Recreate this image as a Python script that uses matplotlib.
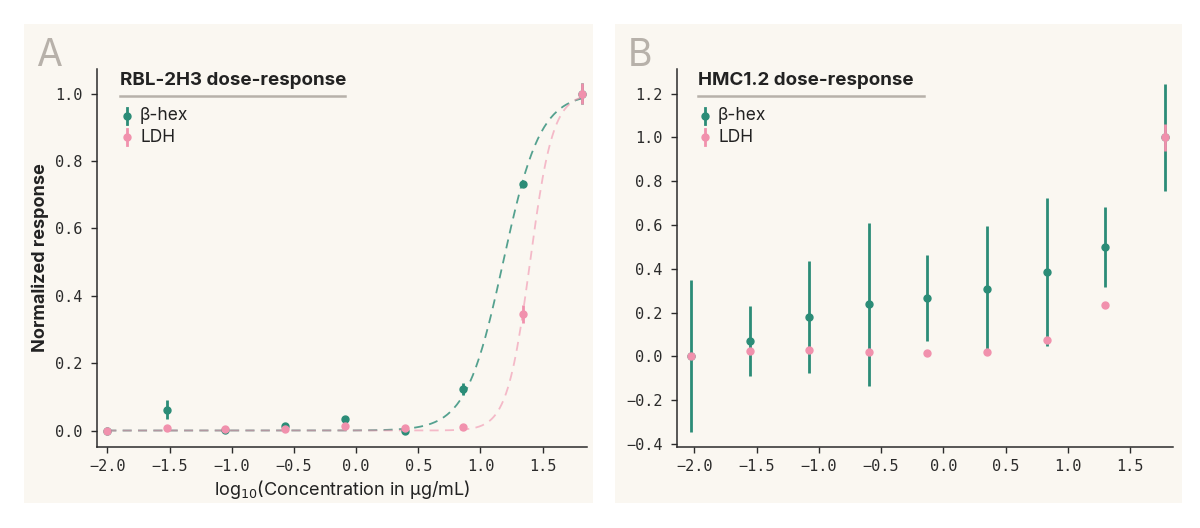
import numpy as np
import matplotlib
matplotlib.use("Agg")
import matplotlib.pyplot as plt
from matplotlib.patches import Rectangle

# panel A: RBL-2H3
x_a = [-2.00, -1.52, -1.05, -0.57, -0.09, 0.39, 0.86, 1.34, 1.82]
hex_a = [0.0, 0.062, 0.003, 0.012, 0.035, 0.0, 0.122, 0.731, 1.0]
hex_a_err = [0.003, 0.028, 0.003, 0.004, 0.005, 0.004, 0.018, 0.006, 0.03]
ldh_a = [0.0, 0.008, 0.004, 0.006, 0.013, 0.007, 0.010, 0.345, 1.0]
ldh_a_err = [0.002, 0.003, 0.002, 0.003, 0.003, 0.003, 0.003, 0.027, 0.03]

# fitted Hill curves (log EC50, slope)
fit_hex = (1.183, 2.9)
fit_ldh = (1.399, 4.7)

# panel B: HMC1.2
x_b = [-2.03, -1.55, -1.08, -0.60, -0.13, 0.35, 0.83, 1.30, 1.78]
hex_b = [0.0, 0.071, 0.180, 0.238, 0.267, 0.306, 0.385, 0.501, 1.0]
hex_b_err = [0.347, 0.158, 0.256, 0.372, 0.195, 0.290, 0.337, 0.182, 0.246]
ldh_b = [0.0, 0.023, 0.029, 0.021, 0.015, 0.020, 0.077, 0.236, 1.0]
ldh_b_err = [0.004, 0.004, 0.004, 0.004, 0.004, 0.004, 0.004, 0.004, 0.06]

xticks = [-2.0, -1.5, -1.0, -0.5, 0.0, 0.5, 1.0, 1.5]

GREEN = "#2b8c77"
PINK = "#f191ad"
CREAM = "#faf7f1"
GREY = "#b7b1aa"
INK = "#2b2b2b"
SANS = ["Inter", "DejaVu Sans"]

W, H = 1200, 528
fig = plt.figure(figsize=(12, 5.28), dpi=100)
fig.patch.set_facecolor("white")

for x0, x1 in [(24, 593), (615, 1182)]:
    fig.patches.append(Rectangle((x0 / W, 1 - 503 / H), (x1 - x0) / W, (503 - 24) / H,
                                 transform=fig.transFigure, facecolor=CREAM,
                                 edgecolor="none", zorder=-5))


def hill(x, ec50, slope):
    return 1.0 / (1.0 + 10 ** ((ec50 - x) * slope))


def style(ax, ylim, xlim, yticks):
    ax.set_facecolor("none")
    ax.set_xlim(*xlim)
    ax.set_ylim(*ylim)
    ax.set_xticks(xticks)
    ax.set_yticks(yticks)
    ax.set_xticklabels([f"{t:.1f}".replace("-", "\u2212") for t in xticks])
    ax.set_yticklabels([f"{t:.1f}".replace("-", "\u2212") for t in yticks])
    for s in ["top", "right"]:
        ax.spines[s].set_visible(False)
    for s in ["left", "bottom"]:
        ax.spines[s].set_color(INK)
        ax.spines[s].set_linewidth(1.1)
    ax.tick_params(colors=INK, length=4.5, width=1, labelsize=11, pad=4)
    ax.tick_params(axis="y", pad=6)
    for lab in ax.get_xticklabels() + ax.get_yticklabels():
        lab.set_family("DejaVu Sans Mono")


def legend_block(title, x0_px, line_end_px):
    # title, grey underline and legend handles in figure pixels
    fig.text(x0_px / W, 1 - 85 / H, title, fontsize=13.5, fontweight="bold",
             family=SANS, color="#222222", va="baseline")
    fig.add_artist(plt.Line2D([x0_px / W, line_end_px / W], [1 - 96 / H, 1 - 96 / H],
                              color=GREY, lw=1.8, transform=fig.transFigure))
    for i, (lab, col) in enumerate([("\u03b2-hex", GREEN), ("LDH", PINK)]):
        yc = 1 - (116 + 21 * i) / H
        fig.add_artist(plt.Line2D([(x0_px + 7) / W] * 2, [yc - 8 / H, yc + 8 / H],
                                  color=col, lw=2, transform=fig.transFigure))
        fig.add_artist(plt.Line2D([(x0_px + 7) / W], [yc], marker="o", ms=5,
                                  color=col, transform=fig.transFigure))
        fig.text((x0_px + 20) / W, yc, lab, fontsize=12.5, family=SANS,
                 color="#222222", va="center")


# ---- panel A
ax1 = fig.add_axes([97 / W, 1 - 446.7 / H, (587 - 97) / W, (446.7 - 69.3) / H])
xs = np.linspace(-2.0, 1.82, 300)
ax1.plot(xs, hill(xs, *fit_hex), ls=(0, (5, 3.5)), color=GREEN, alpha=0.8, lw=1.3, zorder=2)
ax1.plot(xs, hill(xs, *fit_ldh), ls=(0, (5, 3.5)), color=PINK, alpha=0.6, lw=1.3, zorder=2)
ax1.errorbar(x_a, hex_a, yerr=hex_a_err, fmt="o", ms=5, color=GREEN, elinewidth=2,
             capsize=0, zorder=3)
ax1.errorbar(x_a, ldh_a, yerr=ldh_a_err, fmt="o", ms=5, color=PINK, elinewidth=2,
             capsize=0, zorder=4)
style(ax1, (-0.048, 1.072), (-2.083, 1.857), [0.0, 0.2, 0.4, 0.6, 0.8, 1.0])
ax1.set_xlabel("log$_{10}$(Concentration in \u03bcg/mL)", fontsize=13,
               family=SANS, color="#222222", labelpad=3)
ax1.set_ylabel("Normalized response", fontsize=13, fontweight="bold",
               family=SANS, color="#222222", labelpad=4)
fig.text(36 / W, 1 - 66 / H, "A", fontsize=27, color=GREY,
         family=SANS, va="baseline")
legend_block("RBL-2H3 dose-response", 120, 345)

# ---- panel B
ax2 = fig.add_axes([677 / W, 1 - 446.7 / H, (1172.5 - 677) / W, (446.7 - 69.3) / H])
ax2.errorbar(x_b, hex_b, yerr=hex_b_err, fmt="o", ms=5, color=GREEN, elinewidth=2,
             capsize=0, zorder=3)
ax2.errorbar(x_b, ldh_b, yerr=ldh_b_err, fmt="o", ms=5, color=PINK, elinewidth=2,
             capsize=0, zorder=4)
style(ax2, (-0.412, 1.311), (-2.139, 1.841), [-0.4, -0.2, 0.0, 0.2, 0.4, 0.6, 0.8, 1.0, 1.2])
fig.text(628 / W, 1 - 66 / H, "B", fontsize=27, color=GREY,
         family=SANS, va="baseline")
legend_block("HMC1.2 dose-response", 698, 924)

fig.savefig("out.png", dpi=100)
